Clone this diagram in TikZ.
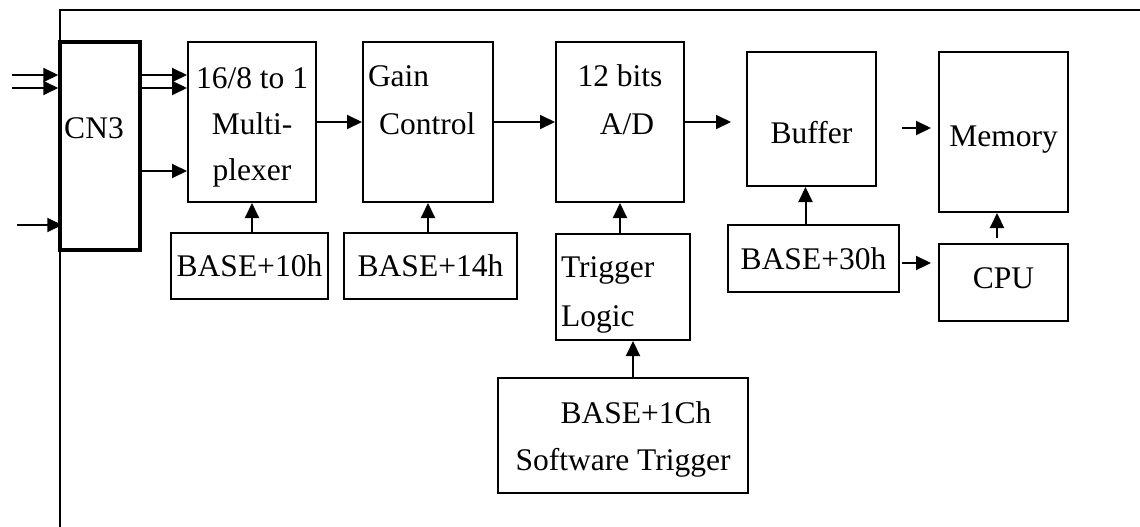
\documentclass[tikz,border=0pt]{standalone}
\usepackage{fontspec}
\setmainfont{Liberation Serif}
\usetikzlibrary{arrows.meta, positioning}

\begin{document}
\begin{tikzpicture}[x=1pt,y=-1pt]

\tikzset{block/.style = {draw, line width=2pt, inner sep=0pt, align=center, font=\fontsize{31.5}{46}\selectfont}}
\tikzset{edge/.style = {line width=2pt, -{Triangle[length=15pt,width=14pt]}}}

\useasboundingbox (0,0) rectangle (1140,527);
% frame
\draw[line width=2.5pt] (60,527) -- (60,10) -- (1140,10);

% blocks
\node[block, line width=3.5pt, minimum width=80pt, minimum height=208pt] (cn3) at (100,146) {\hspace*{-12pt}\raisebox{7.25pt}[0pt][0pt]{CN3}};
\node[block, minimum width=128pt, minimum height=160pt] (mux) at (252,122) {\rule{0pt}{32pt}16/8 to 1\\Multi-\\plexer};
\node[block, align=left, text width=120pt, inner xsep=5pt, minimum height=160pt] (gain) at (428,122) {\rule{0pt}{37.5pt}Gain\\[2pt]\hspace*{11pt}Control\\\strut};
\node[block, minimum width=128pt, minimum height=160pt] (ad) at (620,122) {\rule{0pt}{37.5pt}12 bits\\[2pt]\hspace*{14pt}A/D\\\strut};
\node[block, minimum width=129pt, minimum height=134pt] (buf) at (811.5,119) {\raisebox{-24.75pt}[0pt][0pt]{Buffer}};
\node[block, minimum width=129pt, minimum height=160pt] (mem) at (1003.5,132) {\raisebox{-14.5pt}[0pt][0pt]{Memory}};
\node[block, minimum width=129pt, minimum height=77pt] (cpu) at (1003.5,282.5) {\raisebox{-6pt}[0pt][0pt]{CPU}};
\node[block, minimum width=157pt, minimum height=66pt] (b10) at (249.5,266) {BASE+10h};
\node[block, minimum width=173pt, minimum height=66pt] (b14) at (430.5,266) {BASE+14h};
\node[block, align=left, text width=124pt, inner xsep=5pt, minimum height=106pt] (trig) at (623,287) {\rule{0pt}{37.5pt}Trigger\\[3pt]Logic};
\node[block, minimum width=250pt, minimum height=115pt] (sw) at (623,435.5) {\rule{0pt}{29pt}\hspace*{26pt}BASE+1Ch\\[1pt]Software Trigger};
\node[block, minimum width=171pt, minimum height=67pt] (b30) at (813.5,258.5) {BASE+30h};

% inputs
\coordinate (in1) at (12,75);
\coordinate (in2) at (12,88);
\coordinate (in3) at (17,225);
\draw[edge] (in1) -- (in1 -| cn3.west);
\draw[edge] (in2) -- (in2 -| cn3.west);
\draw[edge, shorten >=-4pt] (in3) -- (in3 -| cn3.west);
\draw[edge] (cn3.east |- in1) -- (mux.west |- in1);
\draw[edge] (cn3.east |- in2) -- (mux.west |- in2);
\draw[edge] (cn3.east |- 0,171) -- (mux.west |- 0,171);

% data path
\draw[edge] (mux) -- (gain);
\draw[edge] (gain) -- (ad);
\draw[edge, shorten >=15pt] (ad.east) -- (ad.east -| buf.west);
\draw[edge, shorten <=25pt, shorten >=7pt] ([yshift=-9pt]buf.east) -- ([yshift=4pt]mem.west);

% control
\draw[edge] (b10.north -| mux.south) -- (mux.south);
\draw[edge] (b14.north -| gain.south) -- (gain.south);
\draw[edge] (trig.north -| ad.south) -- (ad.south);
\draw[edge] ([xshift=10pt]sw.north) -- ([xshift=10pt]trig.south);
\draw[edge] ([xshift=-6pt]buf.south |- b30.north) -- ([xshift=-6pt]buf.south);
\draw[edge, shorten <=2pt, shorten >=7pt] ([yshift=-4.5pt]b30.east) -- ([yshift=19.5pt]cpu.west);
\draw[edge, shorten <=5pt] ([xshift=-6.5pt]cpu.north) -- ([xshift=-6.5pt]mem.south);
\end{tikzpicture}
\end{document}
